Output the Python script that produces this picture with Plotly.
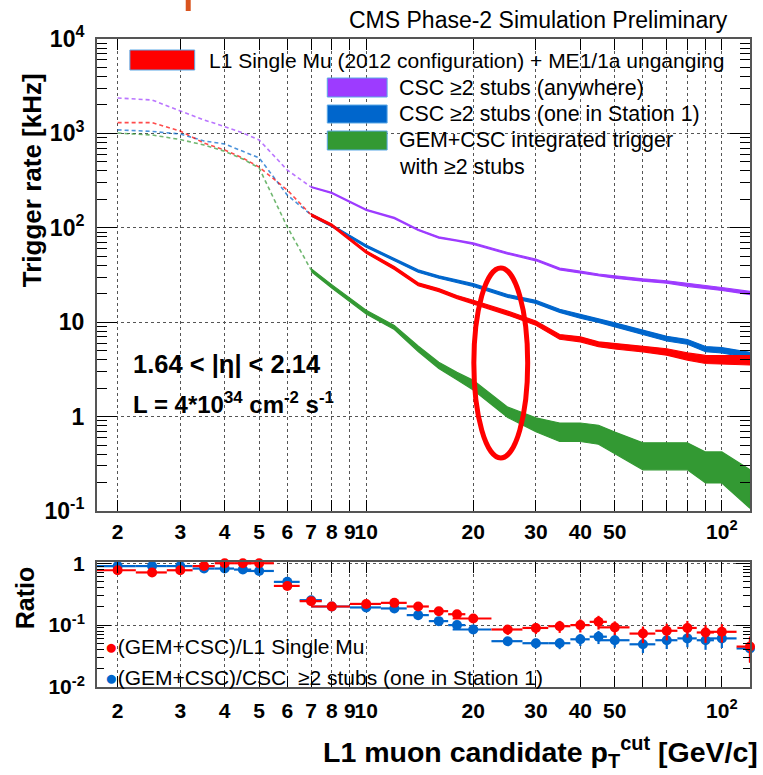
import math
import plotly.graph_objects as go

# ---------------- data ----------------
pt = [2, 2.5, 3, 3.5, 4, 4.5, 5, 6, 7, 8, 10, 12, 14, 16, 18, 20,
      25, 30, 35, 40, 45, 50, 60, 70, 80, 90, 100, 120]
pt_halfwidth = [0.25, 0.25, 0.25, 0.25, 0.25, 0.25, 0.5, 0.5, 0.5, 1, 1, 1, 1, 1, 1, 2.5,
                2.5, 2.5, 2.5, 2.5, 2.5, 5, 5, 5, 5, 5, 10, 10]

rate_csc_any = [2370, 2260, 1730, 1390, 1180, 1010, 851, 409, 270, 234, 155, 127, 95, 78.9, 73.6, 68,
                53.7, 45.6, 36.6, 33.9, 31.6, 30.1, 28, 26.7, 24.8, 23.6, 22.5, 20.4]
err_csc_any = [20, 20, 15, 12, 10, 9, 8, 4, 3, 3, 2, 1.8, 1.4, 1.3, 1.2, 1.2,
               1.0, 0.9, 0.8, 0.8, 0.8, 0.8, 0.8, 0.8, 0.8, 0.8, 0.8, 0.8]

rate_csc_st1 = [1090, 1050, 986, 832, 773, 651, 550, 222, 137, 105, 64, 45.9, 34.8, 30.1, 27.3, 24.8,
                19, 16.4, 13.2, 11.5, 10.4, 9.4, 7.9, 6.7, 6.2, 5.2, 5.05, 4.5]
err_csc_st1 = [10, 10, 9, 8, 7, 6, 5, 3, 3.5, 2.5, 1.6, 1.3, 1.0, 0.9, 0.8, 0.8,
               0.65, 0.6, 0.5, 0.5, 0.45, 0.45, 0.4, 0.38, 0.36, 0.33, 0.33, 0.3]

rate_l1 = [1300, 1300, 1060, 790, 667, 548, 440, 251, 137, 107, 55.5, 37.5, 25.2, 21.9, 18.5, 16.4,
           12.5, 9.8, 7.0, 6.6, 5.85, 5.55, 5.2, 4.85, 4.35, 4.05, 4.0, 3.97]
err_l1 = [13, 13, 10, 8, 7, 5, 4, 3, 3.5, 3, 1.7, 1.3, 0.9, 0.8, 0.7, 0.7,
          0.6, 0.5, 0.4, 0.4, 0.35, 0.35, 0.35, 0.38, 0.38, 0.4, 0.42, 0.45]

rate_gem = [1008, 962, 861, 753, 646, 535, 430, 102, 35.7, 24, 12.8, 8.8, 5.25, 3.5, 2.7, 2.17,
            1.12, 0.83, 0.70, 0.70, 0.66, 0.545, 0.40, 0.40, 0.40, 0.31, 0.31, 0.19]
err_gem = [5, 5, 5, 5, 4, 4, 3, 2, 1.2, 1.0, 0.6, 0.45, 0.35, 0.26, 0.24, 0.26,
           0.14, 0.14, 0.155, 0.155, 0.15, 0.14, 0.127, 0.127, 0.127, 0.112, 0.112, 0.083]

ratio_l1 = [0.77, 0.71, 0.77, 0.90, 1.0, 1.0, 1.0, 0.43, 0.244, 0.20, 0.22, 0.229, 0.20, 0.168, 0.15, 0.128,
            0.085, 0.09, 0.096, 0.10, 0.113, 0.092, 0.073, 0.081, 0.09, 0.076, 0.078, 0.045]
ratio_l1_relerr = [0.02, 0.02, 0.02, 0.02, 0.02, 0.02, 0.02, 0.03, 0.04, 0.05, 0.06, 0.07, 0.08, 0.09, 0.1, 0.12,
                   0.18, 0.2, 0.22, 0.24, 0.25, 0.25, 0.3, 0.3, 0.3, 0.32, 0.33, 0.45]

ratio_st1 = [0.90, 0.90, 0.90, 0.82, 0.82, 0.79, 0.75, 0.50, 0.253, 0.20, 0.193, 0.186, 0.145, 0.116, 0.10, 0.085,
             0.055, 0.051, 0.051, 0.059, 0.065, 0.057, 0.049, 0.057, 0.061, 0.057, 0.061, 0.042]
ratio_st1_relerr = [0.02, 0.02, 0.02, 0.02, 0.02, 0.02, 0.02, 0.03, 0.04, 0.05, 0.06, 0.07, 0.08, 0.09, 0.1, 0.12,
                    0.15, 0.18, 0.2, 0.22, 0.24, 0.24, 0.28, 0.28, 0.28, 0.3, 0.3, 0.4]

x_tickvals = [2, 3, 4, 5, 6, 7, 8, 9, 10, 20, 30, 40, 50, 100]
x_ticktext = ['2', '3', '4', '5', '6', '7', '8', '9', '10', '20', '30', '40', '50', '10<sup>2</sup>']
x_minor_tickvals = [60, 70, 80, 90]
y_tickvals = [0.1, 1, 10, 100, 1000, 10000]
y_ticktext = ['10<sup>-1</sup>', '1', '10', '10<sup>2</sup>', '10<sup>3</sup>', '10<sup>4</sup>']
y2_tickvals = [0.01, 0.1, 1]
y2_ticktext = ['10<sup>-2</sup>', '10<sup>-1</sup>', '1']

# ---------------- styling ----------------
PURPLE = '#9d3bff'
BLUE = '#0066cc'
RED = '#ff0000'
GREEN = '#339933'
FONT = 'Liberation Sans'

W, H = 763, 775
PL, PR, PT, PB = 97, 752, 39, 687   # plot pixel box


def fx(xp):
    return (xp - PL) / (PR - PL)


def fy(yp):
    return (PB - yp) / (PB - PT)


fig = go.Figure()

SPLIT = 8  # index of first point drawn as a filled band (pT = 7)
series = [(rate_csc_any, err_csc_any, PURPLE),
          (rate_csc_st1, err_csc_st1, BLUE),
          (rate_l1, err_l1, RED),
          (rate_gem, err_gem, GREEN)]
for vals, errs, col in series:
    fig.add_trace(go.Scatter(x=pt[:SPLIT + 1], y=vals[:SPLIT + 1], mode='lines',
                             line=dict(color=col, width=1.6, dash='4px,3px'), opacity=0.7,
                             showlegend=False, hoverinfo='skip', xaxis='x', yaxis='y'))
    xs = pt[SPLIT:]
    lo = [v - e for v, e in zip(vals[SPLIT:], errs[SPLIT:])]
    hi = [v + e for v, e in zip(vals[SPLIT:], errs[SPLIT:])]
    fig.add_trace(go.Scatter(x=xs + xs[::-1], y=lo + hi[::-1], mode='lines', fill='toself',
                             fillcolor=col, line=dict(color=col, width=1.2),
                             showlegend=False, hoverinfo='skip', xaxis='x', yaxis='y'))

# ratio panel
for vals, rel, col in [(ratio_st1, ratio_st1_relerr, BLUE), (ratio_l1, ratio_l1_relerr, RED)]:
    fig.add_trace(go.Scatter(
        x=pt, y=vals, mode='markers', cliponaxis=False,
        marker=dict(color=col, size=10, symbol='circle'),
        error_x=dict(type='data', array=pt_halfwidth, color=col, thickness=2.2, width=0),
        error_y=dict(type='data', array=[v * r for v, r in zip(vals, rel)], color=col, thickness=2.2, width=0),
        showlegend=False, hoverinfo='skip', xaxis='x2', yaxis='y2'))

xrange_ = [math.log10(1.75), math.log10(120)]

common_x = dict(type='log', range=xrange_, tickmode='array', tickvals=x_tickvals, ticktext=x_ticktext,
                tickangle=0,
                ticks='inside', ticklen=11, tickwidth=1.3, tickcolor='black',
                minor=dict(tickmode='array', tickvals=x_minor_tickvals, ticks='inside', ticklen=11,
                           tickwidth=1.3, tickcolor='black', showgrid=True, gridcolor='#555',
                           griddash='dot', gridwidth=1),
                showgrid=True, gridcolor='#555', griddash='dot', gridwidth=1,
                showline=True, linecolor='#555', linewidth=2, mirror='ticks', zeroline=False,
                tickfont=dict(family=FONT, size=21, color='black', weight='bold'))

fig.update_layout(
    width=W, height=H, autosize=False,
    margin=dict(l=PL, r=W - PR, t=PT, b=H - PB, pad=0),
    paper_bgcolor='white', plot_bgcolor='white',
    font=dict(family=FONT, color='black'),
    xaxis=dict(anchor='y', domain=[0, 1], ticklabelstandoff=1, **common_x),
    xaxis2=dict(anchor='y2', domain=[0, 1], ticklabelstandoff=4, **common_x),
    yaxis=dict(type='log', domain=[fy(511), 1.0], range=[-1, 4], anchor='x',
               tickmode='array', tickvals=y_tickvals, ticktext=y_ticktext,
               ticks='inside', ticklen=20, tickwidth=1.3, tickcolor='black',
               minor=dict(tickmode='array',
                          tickvals=[m * 10 ** d for d in range(-1, 4) for m in range(2, 10)],
                          ticks='inside', ticklen=10, tickwidth=1.3, tickcolor='black', showgrid=False),
               showgrid=True, gridcolor='#555', griddash='dot', gridwidth=1,
               showline=True, linecolor='#555', linewidth=2, mirror='ticks', zeroline=False,
               ticklabelstandoff=6,
               tickfont=dict(family=FONT, size=23, color='black', weight='bold')),
    yaxis2=dict(type='log', domain=[0, fy(562)], range=[-2, 0.02], anchor='x2',
                tickmode='array', tickvals=y2_tickvals, ticktext=y2_ticktext,
                ticks='inside', ticklen=14, tickwidth=1.3, tickcolor='black',
                minor=dict(tickmode='array',
                           tickvals=[m * 10 ** d for d in range(-2, 0) for m in range(2, 10)],
                           ticks='inside', ticklen=7, tickwidth=1.3, tickcolor='black', showgrid=False),
                showgrid=True, gridcolor='#555', griddash='dot', gridwidth=1,
                showline=True, linecolor='#555', linewidth=2, mirror='ticks', zeroline=False,
                ticklabelstandoff=6,
                tickfont=dict(family=FONT, size=21, color='black', weight='bold')),
)

shapes = []
# legend backgrounds (hide grid)
shapes.append(dict(type='rect', xref='paper', yref='paper', x0=fx(118), x1=fx(PR), y0=fy(75), y1=fy(PT),
                   fillcolor='white', line=dict(width=0), layer='between'))
shapes.append(dict(type='rect', xref='paper', yref='paper', x0=fx(316), x1=fx(PR), y0=fy(181), y1=fy(75),
                   fillcolor='white', line=dict(width=0), layer='between'))
shapes.append(dict(type='rect', xref='paper', yref='paper', x0=fx(PL), x1=fx(560), y0=fy(PB), y1=fy(632),
                   fillcolor='white', line=dict(width=0), layer='between'))
# legend patches
for (x0, x1, y0, y1, col) in [(130, 195, 50, 70, RED), (328, 388, 78, 97, PURPLE),
                              (328, 388, 105, 123, BLUE), (328, 388, 131, 150, GREEN)]:
    shapes.append(dict(type='rect', xref='paper', yref='paper', x0=fx(x0), x1=fx(x1), y0=fy(y1), y1=fy(y0),
                       fillcolor=col, line=dict(color='#5aa8e6', width=1), layer='above'))
# highlight ellipse
shapes.append(dict(type='circle', xref='paper', yref='paper', x0=fx(475), x1=fx(529), y0=fy(458), y1=fy(268),
                   line=dict(color=RED, width=5), fillcolor='rgba(0,0,0,0)', layer='above'))
# cut-off mark at top
shapes.append(dict(type='rect', xref='paper', yref='paper', x0=fx(186), x1=fx(191), y0=fy(11), y1=fy(0),
                   fillcolor='#d9541e', line=dict(width=0), layer='above'))
fig.update_layout(shapes=shapes)


def ann(text, xp, yp, size, xanchor='left', yanchor='middle', angle=0, color='black'):
    return dict(text=text, xref='paper', yref='paper', x=fx(xp), y=fy(yp), showarrow=False,
                xanchor=xanchor, yanchor=yanchor, textangle=angle, borderpad=0,
                font=dict(family=FONT, size=size, color=color))


anns = [
    ann('CMS Phase-2 Simulation Preliminary', 731, 20, 23, xanchor='right'),
    ann('L1 Single Mu (2012 configuration) + ME1/1a unganging', 208, 60, 21),
    ann('CSC \u22652 stubs (anywhere)', 399, 88, 21.4),
    ann('CSC \u22652 stubs (one in Station 1)', 399, 114, 21.4),
    ann('GEM+CSC integrated trigger', 399, 140, 21.4),
    ann('with \u22652 stubs', 399, 167, 21.4),
    ann('<b>1.64 &lt; |\u03b7| &lt; 2.14</b>', 132, 364, 25.5),
    ann('<b>L = 4*10<sup>34</sup> cm<sup>-2</sup> s<sup>-1</sup></b>', 132, 403, 24),
    ann('<b>Trigger rate [kHz]</b>', 32, 180, 26, xanchor='center', yanchor='middle', angle=-90),
    ann('<b>Ratio</b>', 25, 598, 25, xanchor='center', yanchor='middle', angle=-90),
    ann('<b>L1 muon candidate p<sub>T</sub><sup>cut</sup> [GeV/c]</b>', 761, 752, 28.5, xanchor='right'),
    ann('<span style="color:#ff0000">\u25cf</span>(GEM+CSC)/L1 Single Mu', 104, 646, 21),
    ann('<span style="color:#0066cc">\u25cf</span>(GEM+CSC)/CSC  \u22652 stubs (one in Station 1)', 104, 677, 21),
]
fig.update_layout(annotations=anns)

fig.write_html('out.html', config={'displayModeBar': False},
               post_script="document.body.style.margin='0px';")
